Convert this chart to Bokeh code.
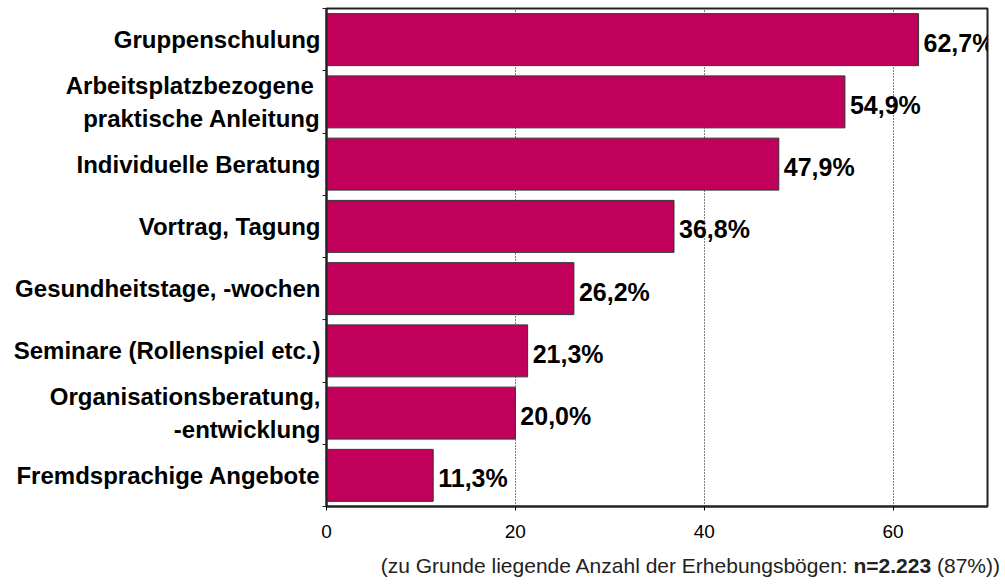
from bokeh.plotting import figure
from bokeh.models import ColumnDataSource, FixedTicker, LabelSet, Div, Range1d
from bokeh.layouts import column
from bokeh.core.properties import value
from bokeh.embed import file_html
from bokeh.resources import INLINE

categories = [
    "Gruppenschulung",
    "Arbeitsplatzbezogene \npraktische Anleitung",
    "Individuelle Beratung",
    "Vortrag, Tagung",
    "Gesundheitstage, -wochen",
    "Seminare (Rollenspiel etc.)",
    "Organisationsberatung,\n-entwicklung",
    "Fremdsprachige Angebote",
]
values = [62.7, 54.9, 47.9, 36.8, 26.2, 21.3, 20.0, 11.3]
x_ticks = [0, 20, 40, 60]
footnote_plain = "(zu Grunde liegende Anzahl der Erhebungsbögen: "
footnote_bold = "n=2.223"
footnote_tail = " (87%))"

n = len(categories)
ypos = [n - i - 0.5 for i in range(n)]
labels = [f"{v:.1f}%".replace(".", ",") for v in values]
src = ColumnDataSource(dict(y=ypos, v=values, lab=labels, cat=categories))

FONT = "Liberation Sans"
p = figure(width=1000, height=556, output_backend="svg", toolbar_location=None,
           x_range=Range1d(0, 70), y_range=Range1d(0, n),
           min_border_left=326, min_border_right=13, min_border_top=8, min_border_bottom=50)

p.hbar(y="y", right="v", left=0, height=0.835, source=src,
       fill_color="#C0005A", line_color="#333333", line_width=1)

p.add_layout(LabelSet(x="v", y="y", text="lab", source=src, x_offset=5, y_offset=-3,
                      text_font=value(FONT), text_font_style="bold", text_font_size="25px",
                      text_baseline="middle", text_align="left", text_color="black"))

# x axis
p.xaxis.ticker = FixedTicker(ticks=x_ticks)
p.xaxis.major_label_text_font = FONT
p.xaxis.major_label_text_font_size = "19px"
p.xaxis.major_label_text_color = "black"
p.xaxis.major_tick_out = 4
p.xaxis.major_tick_in = 0
p.xaxis.minor_tick_line_color = None
p.xaxis.axis_line_width = 2
p.xaxis.axis_line_color = "#222222"
p.xaxis.major_label_standoff = 14

# y axis
p.yaxis.ticker = FixedTicker(ticks=ypos, minor_ticks=[i for i in range(n + 1)])
p.yaxis.major_label_overrides = {y: c for y, c in zip(ypos, categories)}
p.yaxis.major_label_text_font = FONT
p.yaxis.major_label_text_font_style = "bold"
p.yaxis.major_label_text_font_size = "24px"
p.yaxis.major_label_text_color = "black"
p.yaxis.major_tick_out = 0
p.yaxis.major_tick_in = 0
p.yaxis.minor_tick_out = 4
p.yaxis.minor_tick_in = 0
p.yaxis.minor_tick_line_color = "#222222"
p.yaxis.axis_line_width = 2
p.yaxis.axis_line_color = "#222222"
p.yaxis.major_label_standoff = 2

p.xgrid.ticker = FixedTicker(ticks=x_ticks[1:])
p.xgrid.grid_line_color = "black"
p.xgrid.grid_line_dash = "1 2"
p.xgrid.grid_line_width = 1
p.ygrid.grid_line_color = None

p.outline_line_color = "#222222"
p.outline_line_width = 2
p.background_fill_color = "white"
p.border_fill_color = "white"

div = Div(text=f'<div style="font-family:{FONT};font-size:21px;color:#222;text-align:right;'
               f'width:1000px;line-height:20px;white-space:nowrap">{footnote_plain}'
               f'<b>{footnote_bold}</b>{footnote_tail}</div>',
          width=1000, height=22, margin=(0, 0, 0, 0))

layout = column(p, div, spacing=0)
open("out.html", "w").write(file_html(layout, INLINE))
